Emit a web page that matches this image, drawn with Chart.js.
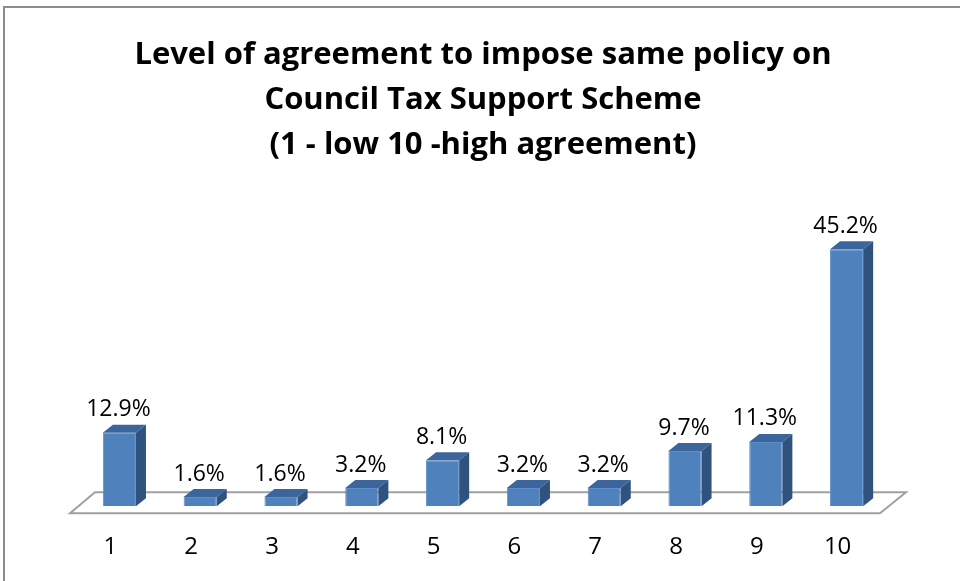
<!DOCTYPE html>
<html lang="en">
<head>
    <meta charset="UTF-8" />
    <title>Level of agreement</title>
    <script src="https://cdn.jsdelivr.net/npm/chart.js"></script>
    <style>
        body { margin: 0; background: #fff; }
        .wrap { width: 960px; height: 581px; position: relative; }
    </style>
</head>
<body>

    <div class="wrap">
        <canvas id="agreeChart"></canvas>
    </div>

    <script>
        // chart data
        const categories = ['1', '2', '3', '4', '5', '6', '7', '8', '9', '10'];
        const percentages = [12.9, 1.6, 1.6, 3.2, 8.1, 3.2, 3.2, 9.7, 11.3, 45.2];
        const titleLines = [
            'Level of agreement to impose same policy on',
            'Council Tax Support Scheme',
            '(1 - low 10 -high agreement)'
        ];

        const fontFamily = '"Open Sans", "Liberation Sans", Arial, sans-serif';

        // 3d look
        const depthX = 10, depthY = 8;
        const topColor = '#3c659c';
        const sideColor = '#30527f';

        const frame3d = {
            id: 'frame3d',
            beforeDraw(chart) {
                const ctx = chart.ctx;
                ctx.save();
                ctx.strokeStyle = '#8c8c8c';
                ctx.lineWidth = 2;
                ctx.strokeRect(4, 7, 970, 600);
                ctx.restore();
            },
            beforeDatasetsDraw(chart) {
                // floor under the bars
                const ctx = chart.ctx;
                const area = chart.chartArea;
                const base = chart.scales.y.getPixelForValue(0);
                ctx.save();
                ctx.beginPath();
                ctx.moveTo(area.left - 9, base + 7);
                ctx.lineTo(area.right - 7, base + 7);
                ctx.lineTo(area.right + 19, base - 14);
                ctx.lineTo(area.left + 16, base - 14);
                ctx.closePath();
                ctx.fillStyle = '#ffffff';
                ctx.fill();
                ctx.strokeStyle = '#a0a0a0';
                ctx.lineWidth = 2;
                ctx.stroke();
                ctx.restore();
            },
            afterDatasetsDraw(chart) {
                const ctx = chart.ctx;
                const meta = chart.getDatasetMeta(0);
                ctx.save();
                meta.data.forEach((bar, i) => {
                    const p = bar.getProps(['x', 'y', 'base', 'width'], true);
                    const l = p.x - p.width / 2, r = p.x + p.width / 2;
                    // top face
                    ctx.beginPath();
                    ctx.moveTo(l, p.y);
                    ctx.lineTo(r, p.y);
                    ctx.lineTo(r + depthX, p.y - depthY);
                    ctx.lineTo(l + depthX, p.y - depthY);
                    ctx.closePath();
                    ctx.fillStyle = topColor;
                    ctx.fill();
                    // side face
                    ctx.beginPath();
                    ctx.moveTo(r, p.y);
                    ctx.lineTo(r + depthX, p.y - depthY);
                    ctx.lineTo(r + depthX, p.base - depthY);
                    ctx.lineTo(r, p.base);
                    ctx.closePath();
                    ctx.fillStyle = sideColor;
                    ctx.fill();
                    // value label
                    ctx.fillStyle = '#000';
                    ctx.font = '23px ' + fontFamily;
                    ctx.textAlign = 'center';
                    ctx.textBaseline = 'middle';
                    ctx.fillText(percentages[i].toFixed(1) + '%', p.x - 1, p.y - depthY - 15);
                });
                ctx.restore();
            }
        };

        const ctx = document.getElementById('agreeChart').getContext('2d');
        new Chart(ctx, {
            type: 'bar',
            data: {
                labels: categories,
                datasets: [{
                    data: percentages,
                    backgroundColor: '#4f81bd',
                    borderColor: '#5f8fca',
                    borderWidth: 1,
                    categoryPercentage: 1,
                    barPercentage: 0.41
                }]
            },
            options: {
                responsive: true,
                maintainAspectRatio: false,
                animation: false,
                layout: {
                    padding: { left: 79, right: 73, top: 0, bottom: -8 }
                },
                scales: {
                    x: {
                        grid: { display: false, drawTicks: false },
                        border: { display: false },
                        ticks: {
                            color: '#000',
                            padding: 27,
                            labelOffset: -9,
                            font: { family: fontFamily, size: 24 }
                        }
                    },
                    y: {
                        display: false,
                        min: 0,
                        max: 50
                    }
                },
                plugins: {
                    legend: { display: false },
                    tooltip: { enabled: false },
                    title: {
                        display: true,
                        text: titleLines,
                        color: '#000',
                        font: { family: fontFamily, size: 31, weight: 'bold', lineHeight: 1.45 },
                        padding: { top: 33, bottom: 54 }
                    }
                }
            },
            plugins: [frame3d]
        });
    </script>

</body>
</html>
